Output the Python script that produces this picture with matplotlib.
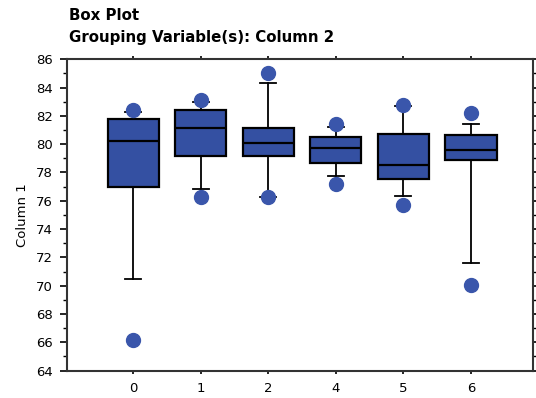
#!/usr/bin/env python3
"""Box plot of Column 1 grouped by Column 2."""

import matplotlib
matplotlib.use("Agg")
import matplotlib.pyplot as plt
from matplotlib.ticker import MultipleLocator

# =============================================================================
# Data
# =============================================================================

GROUPS = ["0", "1", "2", "4", "5", "6"]
WHISKER_LOW = [70.5, 76.85, 76.3, 77.75, 76.35, 71.6]
Q1 = [77.0, 79.15, 79.15, 78.7, 77.55, 78.85]
MEDIAN = [80.25, 81.15, 80.05, 79.75, 78.5, 79.6]
Q3 = [81.75, 82.4, 81.15, 80.5, 80.7, 80.65]
WHISKER_HIGH = [82.3, 82.95, 84.3, 81.2, 82.7, 81.45]
POINT_LOW = [66.15, 76.25, 76.3, 77.2, 75.7, 70.05]
POINT_HIGH = [82.45, 83.15, 85.0, 81.4, 82.8, 82.2]

BOX_COLOR = "#3450a2"
DOT_COLOR = "#3a56ab"

plt.rcParams['font.family'] = 'DejaVu Sans'

# =============================================================================
# Plot
# =============================================================================

stats = []
for i, g in enumerate(GROUPS):
    stats.append({
        "label": g,
        "whislo": WHISKER_LOW[i],
        "q1": Q1[i],
        "med": MEDIAN[i],
        "q3": Q3[i],
        "whishi": WHISKER_HIGH[i],
        "fliers": [],
    })

fig = plt.figure(figsize=(5.36, 3.98), dpi=100)
ax = fig.add_axes([0.125, 0.069, 0.8694, 0.782])

pos = list(range(len(GROUPS)))
ax.bxp(
    stats, positions=pos, widths=0.76, capwidths=0.24, patch_artist=True,
    showfliers=False,
    boxprops=dict(facecolor=BOX_COLOR, edgecolor="black", linewidth=1.6),
    medianprops=dict(color="black", linewidth=1.6),
    whiskerprops=dict(color="black", linewidth=1.3),
    capprops=dict(color="black", linewidth=1.3),
)

# outer points drawn on top so they hide the caps beneath them
dot_style = dict(linestyle="none", marker="o", markersize=10,
                 markerfacecolor=DOT_COLOR, markeredgecolor=DOT_COLOR,
                 zorder=5, clip_on=False)
ax.plot(pos, POINT_LOW, **dot_style)
ax.plot(pos, POINT_HIGH, **dot_style)

ax.set_xlim(-0.98, 5.92)
ax.set_ylim(64, 86)
ax.yaxis.set_major_locator(MultipleLocator(2))
ax.yaxis.set_minor_locator(MultipleLocator(1))
ax.set_xticks(pos)
ax.set_xticklabels(GROUPS)

ax.tick_params(axis='y', which='major', length=5, width=1.2, labelsize=9.5,
               right=True, direction='out', pad=5)
ax.tick_params(axis='y', which='minor', length=3, width=1.0, right=True)
ax.tick_params(axis='x', length=2.5, width=1.2, top=True, labelsize=9.5, pad=6)

for spine in ax.spines.values():
    spine.set_linewidth(1.5)
    spine.set_color("#333333")

ax.set_ylabel("Column 1", fontsize=9.5, labelpad=5)

fig.text(0.128, 0.962, "Box Plot", fontsize=10.8, fontweight="bold",
         ha="left", va="center")
fig.text(0.128, 0.907, "Grouping Variable(s): Column 2", fontsize=10.8,
         fontweight="bold", ha="left", va="center")

fig.savefig("out.png", dpi=100)
